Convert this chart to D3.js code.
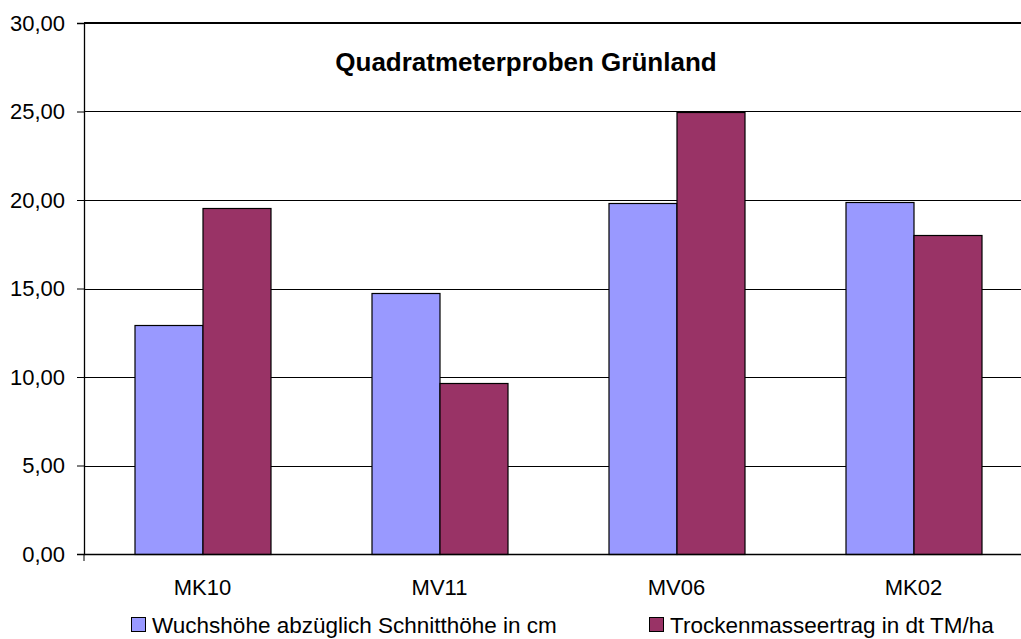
<!DOCTYPE html>
<html>
<head>
<meta charset="utf-8">
<script src="https://cdn.jsdelivr.net/npm/d3@7"></script>
<style>
  body { margin: 0; background: #fff; }
  text { font-family: "Liberation Sans", Arial, sans-serif; }
</style>
</head>
<body>
<script>
// data
var categories = ["MK10", "MV11", "MV06", "MK02"];
var seriesNames = ["Wuchshöhe abzüglich Schnitthöhe in cm", "Trockenmasseertrag in dt TM/ha"];
var wuchshoehe = [12.95, 14.75, 19.85, 19.9];
var trockenmasse = [19.55, 9.65, 24.95, 18.05];
var yTicks = [0, 5, 10, 15, 20, 25, 30];

var colors = ["#9999FF", "#993366"];

// margin
var width = 1021, height = 639;
var margin = {top: 23, left: 84, bottom: 85};
var plotRight = 1032;

var svg = d3.select("body").append("svg")
    .attr("width", width)
    .attr("height", height);

var y = d3.scaleLinear()
    .domain([0, 30])
    .range([height - margin.bottom, margin.top]);

var x = d3.scaleBand()
    .domain(categories)
    .range([margin.left, plotRight]);

var x1 = d3.scaleBand()
    .domain([0, 1])
    .range([0, 136]);

// gridlines
svg.append("g")
  .selectAll("line")
  .data(yTicks.filter(function(d) { return d > 0 && d < 30; }))
  .enter().append("line")
    .attr("x1", margin.left)
    .attr("x2", plotRight)
    .attr("y1", function(d) { return Math.round(y(d)) + 0.5; })
    .attr("y2", function(d) { return Math.round(y(d)) + 0.5; })
    .attr("stroke", "#000")
    .attr("stroke-width", 1);

// top border of plot area
svg.append("line")
    .attr("x1", margin.left)
    .attr("x2", plotRight)
    .attr("y1", y(30))
    .attr("y2", y(30))
    .attr("stroke", "#000")
    .attr("stroke-width", 2);

// bars
var rows = categories.map(function(c, i) {
  return {cat: c, values: [wuchshoehe[i], trockenmasse[i]]};
});

var groups = svg.selectAll(".grp")
    .data(rows)
  .enter().append("g")
    .attr("class", "grp")
    .attr("transform", function(d) {
      return "translate(" + (x(d.cat) + x.bandwidth() / 2 - 68) + ",0)";
    });

groups.selectAll("rect")
    .data(function(d) { return d.values; })
  .enter().append("rect")
    .attr("x", function(d, i) { return x1(i) + 0.5; })
    .attr("y", function(d) { return Math.round(y(d)) + 0.5; })
    .attr("width", x1.bandwidth())
    .attr("height", function(d) { return Math.round(y(0)) - Math.round(y(d)); })
    .attr("fill", function(d, i) { return colors[i]; })
    .attr("stroke", "#000")
    .attr("stroke-width", 1.2);

// y axis
var yAxis = svg.append("g")
    .attr("transform", "translate(" + margin.left + ",0)")
    .call(d3.axisLeft(y)
      .tickValues(yTicks)
      .tickSize(7)
      .tickPadding(12)
      .tickFormat(function(d) { return d3.format(".2f")(d).replace(".", ","); }));
yAxis.select(".domain").attr("stroke", "#000").attr("stroke-width", 1.3);
yAxis.selectAll("text").attr("font-size", 22).attr("fill", "#000")
    .style("font-family", "'Liberation Sans', Arial, sans-serif");

// x axis
var xAxis = svg.append("g")
    .attr("transform", "translate(0," + y(0) + ")")
    .call(d3.axisBottom(x).tickSize(0).tickPadding(25));
xAxis.select(".domain").attr("stroke", "#000").attr("stroke-width", 1.3);
xAxis.selectAll("text").attr("font-size", 22).attr("fill", "#000")
    .style("font-family", "'Liberation Sans', Arial, sans-serif");
xAxis.append("line")
    .attr("x1", margin.left).attr("x2", margin.left)
    .attr("y1", 0).attr("y2", 7)
    .attr("stroke", "#000");

// title
svg.append("text")
    .attr("x", 526)
    .attr("y", 71)
    .attr("text-anchor", "middle")
    .attr("font-size", 26)
    .attr("font-weight", "bold")
    .text("Quadratmeterproben Grünland");

// legend
var legendX = [131, 649];
var legend = svg.selectAll(".legend")
    .data(seriesNames)
  .enter().append("g")
    .attr("class", "legend")
    .attr("transform", function(d, i) { return "translate(" + legendX[i] + ",617)"; });

legend.append("rect")
    .attr("x", 0.5).attr("y", 0.5)
    .attr("width", 14).attr("height", 14)
    .attr("fill", function(d, i) { return colors[i]; })
    .attr("stroke", "#000")
    .attr("stroke-width", 1);

legend.append("text")
    .attr("x", 21)
    .attr("y", 16)
    .attr("font-size", 22.5)
    .text(function(d) { return d; });
</script>
</body>
</html>
